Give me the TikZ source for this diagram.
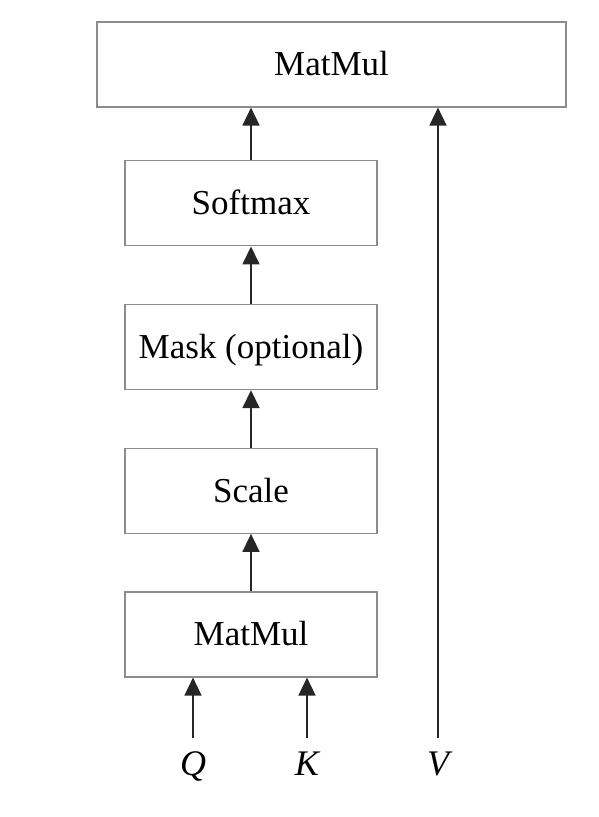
\documentclass[tikz,border=0pt]{standalone}
\usepackage{fontspec}
\setmainfont{Liberation Serif}
\usetikzlibrary{positioning,arrows.meta}
\tikzset{
    opbox/.style={
        draw=black!45,
        line width=1.2pt,
        rectangle,
        minimum width=252pt,
        minimum height=85pt,
        inner sep=0pt,
        text height=23pt,
        text depth=0pt,
        font=\fontsize{35}{42}\selectfont
    },
    widebox/.style={
        opbox,
        minimum width=469pt
    },
    inlabel/.style={
        inner sep=0pt,
        outer ysep=14pt,
        anchor=base,
        font=\fontsize{36}{42}\selectfont\itshape
    },
    flowline/.style={
        draw,
        black!85,
        line width=1.7pt,
        -{Triangle[length=18pt,width=17pt]}
    }
}
\begin{document}
\begin{tikzpicture}[x=1pt,y=1pt,node distance=57.5pt]
        \useasboundingbox (0,0) rectangle (598,817);

        \node[opbox] (mmlow) at (251,182.5) {MatMul};
        \node[opbox, above=of mmlow] (scale) {Scale};
        \node[opbox, above=of scale] (mask) {Mask (optional)};
        \node[opbox, above=of mask] (softmax) {Softmax};
        \node[widebox] (mmtop) at (331.5,752.5) {MatMul};

        \node[inlabel] (q) at (193,41) {Q};
        \node[inlabel] (k) at (307,41) {K};
        \node[inlabel] (v) at (438,41) {V};

        \path[flowline] (q.north) -- (q.north |- mmlow.south);
        \path[flowline] (k.north) -- (k.north |- mmlow.south);
        \path[flowline] (v.north) -- (v.north |- mmtop.south);
        \path[flowline] (mmlow) -- (scale);
        \path[flowline] (scale) -- (mask);
        \path[flowline] (mask) -- (softmax);
        \path[flowline] (softmax.north) -- (softmax.north |- mmtop.south);
    \end{tikzpicture}
\end{document}
